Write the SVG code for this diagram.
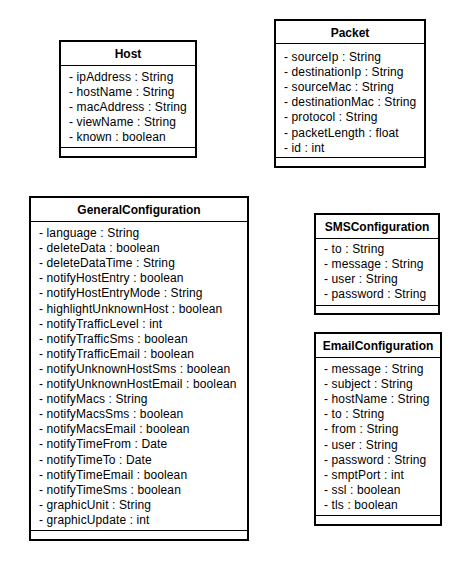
<svg xmlns="http://www.w3.org/2000/svg" width="461" height="562" viewBox="0 0 461 562">
<style>
.box{fill:#fff;stroke:#000;stroke-width:2}
.div{stroke:#000;stroke-width:1;fill:none}
.title{font-family:"Liberation Sans",Arial,sans-serif;font-size:12px;font-weight:bold;text-anchor:middle;fill:#000}
.attr{font-family:"Liberation Sans",Arial,sans-serif;font-size:12px;fill:#000;letter-spacing:0.12px}
</style>
<rect width="461" height="562" fill="#fff"/>
<g id="connectors"></g>
<g id="Host">
<rect class="box" x="60" y="41" width="136" height="116"/>
<line class="div" x1="60" y1="65.5" x2="196" y2="65.5"/>
<line class="div" x1="60" y1="147.5" x2="196" y2="147.5"/>
<text class="title" x="128" y="58">Host</text>
<text class="attr" y="81"><tspan x="69">- ipAddress : String</tspan><tspan x="69" dy="15.1">- hostName : String</tspan><tspan x="69" dy="15.1">- macAddress : String</tspan><tspan x="69" dy="15.1">- viewName : String</tspan><tspan x="69" dy="15.1">- known : boolean</tspan></text>
</g>
<g id="Packet">
<rect class="box" x="275" y="20" width="150" height="147"/>
<line class="div" x1="275" y1="43.5" x2="425" y2="43.5"/>
<line class="div" x1="275" y1="157.5" x2="425" y2="157.5"/>
<text class="title" x="350" y="37">Packet</text>
<text class="attr" y="61"><tspan x="284">- sourceIp : String</tspan><tspan x="284" dy="15.1">- destinationIp : String</tspan><tspan x="284" dy="15.1">- sourceMac : String</tspan><tspan x="284" dy="15.1">- destinationMac : String</tspan><tspan x="284" dy="15.1">- protocol : String</tspan><tspan x="284" dy="15.1">- packetLength : float</tspan><tspan x="284" dy="15.1">- id : int</tspan></text>
</g>
<g id="GeneralConfiguration">
<rect class="box" x="30" y="197" width="218" height="343"/>
<line class="div" x1="30" y1="221.5" x2="248" y2="221.5"/>
<line class="div" x1="30" y1="530.5" x2="248" y2="530.5"/>
<text class="title" x="139" y="214">GeneralConfiguration</text>
<text class="attr" y="237"><tspan x="39">- language : String</tspan><tspan x="39" dy="15.1">- deleteData : boolean</tspan><tspan x="39" dy="15.1">- deleteDataTime : String</tspan><tspan x="39" dy="15.1">- notifyHostEntry : boolean</tspan><tspan x="39" dy="15.1">- notifyHostEntryMode : String</tspan><tspan x="39" dy="15.1">- highlightUnknownHost : boolean</tspan><tspan x="39" dy="15.1">- notifyTrafficLevel : int</tspan><tspan x="39" dy="15.1">- notifyTrafficSms : boolean</tspan><tspan x="39" dy="15.1">- notifyTrafficEmail : boolean</tspan><tspan x="39" dy="15.1">- notifyUnknownHostSms : boolean</tspan><tspan x="39" dy="15.1">- notifyUnknownHostEmail : boolean</tspan><tspan x="39" dy="15.1">- notifyMacs : String</tspan><tspan x="39" dy="15.1">- notifyMacsSms : boolean</tspan><tspan x="39" dy="15.1">- notifyMacsEmail : boolean</tspan><tspan x="39" dy="15.1">- notifyTimeFrom : Date</tspan><tspan x="39" dy="15.1">- notifyTimeTo : Date</tspan><tspan x="39" dy="15.1">- notifyTimeEmail : boolean</tspan><tspan x="39" dy="15.1">- notifyTimeSms : boolean</tspan><tspan x="39" dy="15.1">- graphicUnit : String</tspan><tspan x="39" dy="15.1">- graphicUpdate : int</tspan></text>
</g>
<g id="SMSConfiguration">
<rect class="box" x="315" y="214" width="124" height="100"/>
<line class="div" x1="315" y1="238.5" x2="439" y2="238.5"/>
<line class="div" x1="315" y1="305.5" x2="439" y2="305.5"/>
<text class="title" x="377" y="231">SMSConfiguration</text>
<text class="attr" y="253"><tspan x="324">- to : String</tspan><tspan x="324" dy="15.1">- message : String</tspan><tspan x="324" dy="15.1">- user : String</tspan><tspan x="324" dy="15.1">- password : String</tspan></text>
</g>
<g id="EmailConfiguration">
<rect class="box" x="315" y="333" width="126" height="192"/>
<line class="div" x1="315" y1="357.5" x2="441" y2="357.5"/>
<line class="div" x1="315" y1="515.5" x2="441" y2="515.5"/>
<text class="title" x="378" y="350">EmailConfiguration</text>
<text class="attr" y="373"><tspan x="324">- message : String</tspan><tspan x="324" dy="15.1">- subject : String</tspan><tspan x="324" dy="15.1">- hostName : String</tspan><tspan x="324" dy="15.1">- to : String</tspan><tspan x="324" dy="15.1">- from : String</tspan><tspan x="324" dy="15.1">- user : String</tspan><tspan x="324" dy="15.1">- password : String</tspan><tspan x="324" dy="15.1">- smptPort : int</tspan><tspan x="324" dy="15.1">- ssl : boolean</tspan><tspan x="324" dy="15.1">- tls : boolean</tspan></text>
</g>
</svg>
